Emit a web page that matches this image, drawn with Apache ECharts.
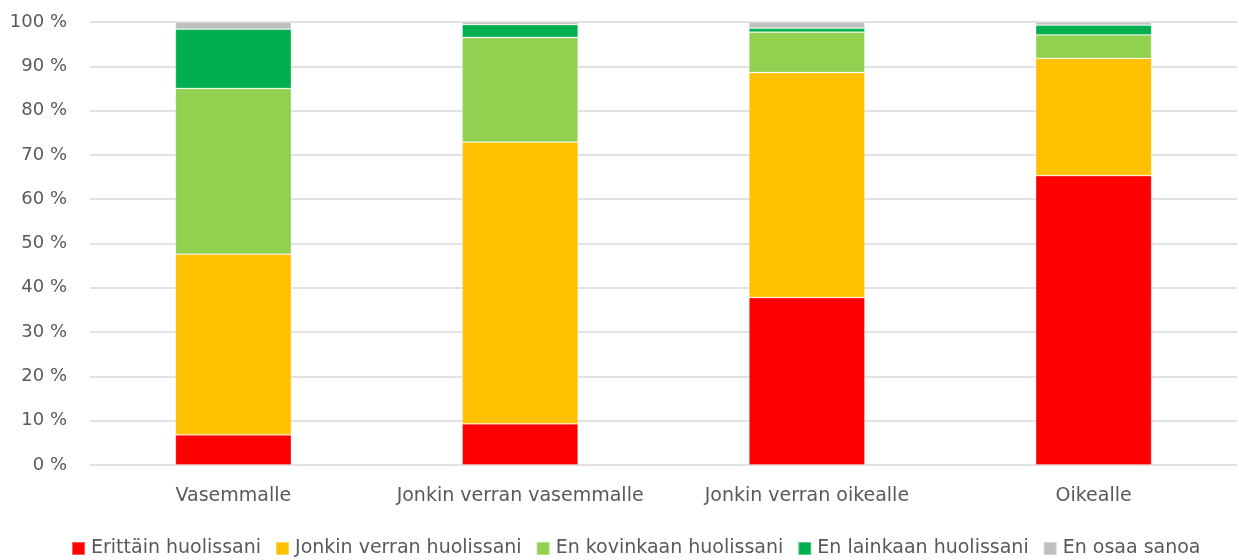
<!DOCTYPE html>
<html><head><meta charset="utf-8">
<script src="https://cdn.jsdelivr.net/npm/echarts@6/dist/echarts.min.js"></script>
<style>html,body{margin:0;padding:0;background:#fff}#c{width:1239px;height:560px}</style>
</head><body><div id="c"></div>
<script>
const categories = ['Vasemmalle', 'Jonkin verran vasemmalle', 'Jonkin verran oikealle', 'Oikealle'];
const seriesNames = ['Erittäin huolissani', 'Jonkin verran huolissani', 'En kovinkaan huolissani', 'En lainkaan huolissani', 'En osaa sanoa'];
const erittain = [6.8, 9.3, 37.8, 65.3];
const jonkin = [40.8, 63.6, 50.8, 26.5];
const kovinkaan = [37.4, 23.6, 9.1, 5.3];
const lainkaan = [13.4, 2.9, 0.9, 2.2];
const eos = [1.6, 0.6, 1.4, 0.7];
const yTicks = [0, 10, 20, 30, 40, 50, 60, 70, 80, 90, 100];
const colors = ['#FF0000', '#FFC000', '#92D050', '#00B050', '#BFBFBF'];
const values = [erittain, jonkin, kovinkaan, lainkaan, eos];

const font = '"DejaVu Sans", sans-serif';
const chart = echarts.init(document.getElementById('c'));
chart.setOption({
  animation: false,
  color: colors,
  textStyle: { fontFamily: font },
  grid: { left: 90, right: 2, top: 22, bottom: 95 },
  legend: {
    bottom: -3, left: 66, itemWidth: 13, itemHeight: 13, itemGap: 14,
    icon: 'rect',
    textStyle: { fontFamily: font, fontSize: 19, color: '#595959', padding: [0, 0, 0, 1] },
    data: seriesNames
  },
  xAxis: {
    type: 'category', data: categories,
    axisLine: { show: false }, axisTick: { show: false },
    axisLabel: { fontFamily: font, fontSize: 19, color: '#595959', margin: 22, interval: 0 }
  },
  yAxis: {
    type: 'value', min: 0, max: 100, interval: 10,
    axisLine: { show: false }, axisTick: { show: false },
    splitLine: { lineStyle: { color: '#D9D9D9', width: 1.5 } },
    axisLabel: { fontFamily: font, fontSize: 18, color: '#595959', margin: 23,
      formatter: v => yTicks.includes(v) ? v + ' %' : '' }
  },
  series: seriesNames.map((n, i) => ({
    name: n, type: 'bar', stack: 'total', data: values[i], barWidth: 116,
    itemStyle: { color: colors[i], borderColor: 'rgba(255,255,255,0.35)', borderWidth: 0.8 }
  }))
});
</script></body></html>
